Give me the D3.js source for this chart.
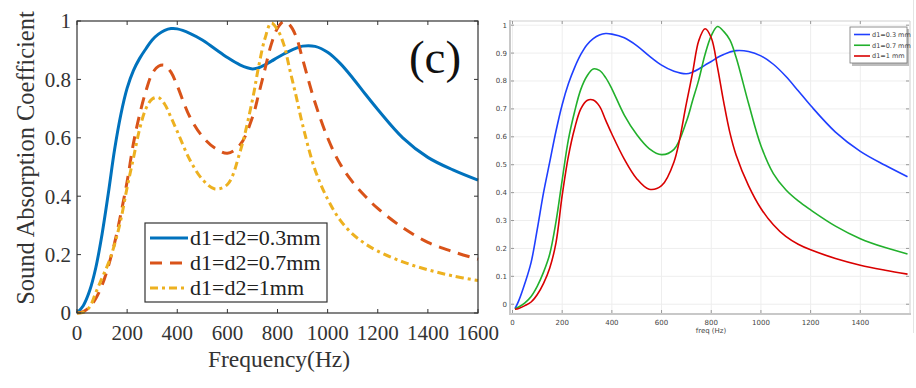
<!DOCTYPE html>
<html lang="en">
<head>
    <meta charset="UTF-8">
    <title>Sound Absorption Comparison</title>
    <script src="https://d3js.org/d3.v7.min.js"></script>
    <style>
        body {
            margin: 0;
            background-color: #ffffff;
            overflow: hidden;
        }

        svg {
            display: block;
        }

        .left text {
            font-family: 'Liberation Serif', 'Times New Roman', serif;
            fill: #333;
        }

        .right text {
            font-family: 'DejaVu Sans', sans-serif;
            font-size: 7px;
            fill: #444;
        }

        .curve {
            fill: none;
        }
    </style>
</head>
<body>
    <svg width="916" height="388"></svg>

    <script>
        // ---- data: left panel (model) ----
        const freqL = [0, 25, 50, 75, 100, 125, 150, 175, 200, 225, 250, 275, 300, 325, 350, 375, 400, 450, 500, 550,
                       600, 650, 700, 725, 750, 775, 800, 825, 850, 875, 900, 950, 1000, 1050, 1100, 1150, 1200, 1300, 1400, 1500, 1600];
        const d03L = [0, 0.025, 0.075, 0.155, 0.27, 0.41, 0.56, 0.68, 0.77, 0.83, 0.872, 0.905, 0.935, 0.955, 0.968, 0.974, 0.973, 0.958, 0.935, 0.905,
                      0.875, 0.85, 0.836, 0.84, 0.85, 0.862, 0.875, 0.887, 0.898, 0.907, 0.914, 0.913, 0.893, 0.855, 0.805, 0.75, 0.697, 0.6, 0.533, 0.49, 0.455];
        const d07L = [0, 0.005, 0.02, 0.05, 0.095, 0.16, 0.24, 0.34, 0.45, 0.58, 0.68, 0.76, 0.82, 0.845, 0.848, 0.825, 0.778, 0.672, 0.605, 0.565,
                      0.547, 0.575, 0.67, 0.75, 0.835, 0.92, 0.975, 0.998, 0.985, 0.945, 0.87, 0.72, 0.6, 0.51, 0.448, 0.4, 0.358, 0.292, 0.242, 0.21, 0.184];
        const d1L = [0, 0.002, 0.02, 0.07, 0.12, 0.17, 0.235, 0.32, 0.43, 0.53, 0.63, 0.7, 0.733, 0.738, 0.715, 0.67, 0.622, 0.525, 0.458, 0.425,
                     0.44, 0.55, 0.73, 0.845, 0.94, 0.993, 0.97, 0.92, 0.83, 0.74, 0.645, 0.49, 0.39, 0.318, 0.27, 0.237, 0.212, 0.175, 0.148, 0.127, 0.111];
        const legendL = ["d1=d2=0.3mm", "d1=d2=0.7mm", "d1=d2=1mm"];
        const xTicksL = [0, 200, 400, 600, 800, 1000, 1200, 1400, 1600];
        const yTicksL = [0, 0.2, 0.4, 0.6, 0.8, 1];

        // ---- data: right panel (simulation) ----
        const freqR = [10, 25, 50, 75, 100, 125, 150, 175, 200, 225, 250, 275, 300, 325, 350, 375, 400, 450, 500, 550,
                       600, 650, 700, 725, 750, 775, 800, 825, 850, 875, 900, 950, 1000, 1050, 1100, 1150, 1200, 1300, 1400, 1500, 1590];
        const d03R = [-0.016, 0.012, 0.075, 0.15, 0.27, 0.4, 0.51, 0.62, 0.715, 0.79, 0.848, 0.895, 0.93, 0.952, 0.965, 0.97, 0.968, 0.955, 0.927, 0.89,
                      0.857, 0.835, 0.826, 0.832, 0.843, 0.857, 0.87, 0.884, 0.895, 0.904, 0.909, 0.906, 0.89, 0.86, 0.817, 0.765, 0.712, 0.617, 0.548, 0.498, 0.457];
        const d07R = [-0.016, -0.01, 0.005, 0.028, 0.065, 0.115, 0.18, 0.295, 0.445, 0.59, 0.69, 0.77, 0.818, 0.843, 0.838, 0.812, 0.772, 0.678, 0.608, 0.558,
                      0.536, 0.555, 0.655, 0.73, 0.805, 0.895, 0.962, 0.995, 0.978, 0.947, 0.885, 0.72, 0.568, 0.468, 0.41, 0.37, 0.338, 0.28, 0.235, 0.203, 0.18];
        const d1R = [-0.018, -0.015, -0.005, 0.008, 0.035, 0.075, 0.13, 0.22, 0.39, 0.53, 0.63, 0.7, 0.73, 0.732, 0.71, 0.66, 0.61, 0.52, 0.45, 0.412,
                     0.425, 0.51, 0.72, 0.83, 0.945, 0.987, 0.955, 0.85, 0.725, 0.615, 0.535, 0.425, 0.343, 0.285, 0.243, 0.215, 0.195, 0.164, 0.14, 0.122, 0.108];
        const legendR = ["d1=0.3 mm", "d1=0.7 mm", "d1=1 mm"];
        const xTicksR = [0, 200, 400, 600, 800, 1000, 1200, 1400];
        const yTicksR = [0, 0.1, 0.2, 0.3, 0.4, 0.5, 0.6, 0.7, 0.8, 0.9, 1];

        const svg = d3.select("svg");

        // ================= left panel =================
        const L = svg.append("g").attr("class", "left");
        const xL = d3.scaleLinear().domain([0, 1600]).range([77, 478]);
        const yL = d3.scaleLinear().domain([0, 1]).range([313, 21]);
        const axisCol = "#333";

        const seriesL = [
            { vals: d03L, color: "#0072BD", dash: null },
            { vals: d07L, color: "#D95319", dash: "12,8" },
            { vals: d1L, color: "#EDB120", dash: "8,4,3,4" }
        ];

        const lineL = d3.line()
            .x((d, i) => xL(freqL[i]))
            .y(d => yL(d))
            .curve(d3.curveCatmullRom.alpha(0.5));

        // curves (drawn under the legend)
        seriesL.forEach(s => {
            L.append("path")
                .attr("class", "curve")
                .attr("d", lineL(s.vals))
                .attr("stroke", s.color)
                .attr("stroke-width", 3)
                .attr("stroke-dasharray", s.dash);
        });

        // box
        L.append("rect")
            .attr("x", xL(0)).attr("y", yL(1))
            .attr("width", xL(1600) - xL(0)).attr("height", yL(0) - yL(1))
            .attr("fill", "none").attr("stroke", axisCol).attr("stroke-width", 1.2);

        // inward ticks on all sides
        xTicksL.forEach(t => {
            L.append("line").attr("x1", xL(t)).attr("x2", xL(t)).attr("y1", yL(0)).attr("y2", yL(0) - 4).attr("stroke", axisCol);
            L.append("line").attr("x1", xL(t)).attr("x2", xL(t)).attr("y1", yL(1)).attr("y2", yL(1) + 4).attr("stroke", axisCol);
            L.append("text")
                .attr("x", xL(t)).attr("y", 340)
                .attr("text-anchor", "middle")
                .style("font-size", "21px")
                .text(t);
        });
        yTicksL.forEach(t => {
            L.append("line").attr("x1", xL(0)).attr("x2", xL(0) + 4).attr("y1", yL(t)).attr("y2", yL(t)).attr("stroke", axisCol);
            L.append("line").attr("x1", xL(1600)).attr("x2", xL(1600) - 4).attr("y1", yL(t)).attr("y2", yL(t)).attr("stroke", axisCol);
            L.append("text")
                .attr("x", 71).attr("y", yL(t))
                .attr("dy", "0.35em")
                .attr("text-anchor", "end")
                .style("font-size", "21px")
                .text(t);
        });

        // axis labels
        L.append("text")
            .attr("transform", "translate(34,158) rotate(-90)")
            .attr("text-anchor", "middle")
            .style("font-size", "24.5px")
            .text("Sound Absorption Coefficient");
        L.append("text")
            .attr("x", 279).attr("y", 367)
            .attr("text-anchor", "middle")
            .style("font-size", "23.5px")
            .text("Frequency(Hz)");

        L.append("text")
            .attr("x", 435).attr("y", 73)
            .attr("text-anchor", "middle")
            .style("font-size", "47px")
            .style("fill", "#111")
            .text("(c)");

        // legend
        const legL = L.append("g");
        legL.append("rect")
            .attr("x", 145).attr("y", 223).attr("width", 182).attr("height", 79)
            .attr("fill", "#fff").attr("stroke", axisCol).attr("stroke-width", 1.2);
        const rowL = d3.scaleLinear().domain([0, 2]).range([238, 288]);
        seriesL.forEach((s, i) => {
            legL.append("line")
                .attr("x1", 150).attr("x2", 188)
                .attr("y1", rowL(i)).attr("y2", rowL(i))
                .attr("stroke", s.color).attr("stroke-width", 3)
                .attr("stroke-dasharray", s.dash);
            legL.append("text")
                .attr("x", 190).attr("y", rowL(i))
                .attr("dy", "0.33em")
                .style("font-size", "22px")
                .style("fill", "#222")
                .text(legendL[i]);
        });

        // ================= right panel =================
        const R = svg.append("g").attr("class", "right");
        const xR = d3.scaleLinear().domain([-10, 1600]).range([510, 910]);
        const yR = d3.scaleLinear().domain([-0.035, 1.015]).range([314, 21]);

        // grid
        xTicksR.forEach(t => {
            R.append("line").attr("x1", xR(t)).attr("x2", xR(t)).attr("y1", yR(1.015)).attr("y2", yR(-0.035))
                .attr("stroke", "#eeeeee");
        });
        yTicksR.forEach(t => {
            R.append("line").attr("x1", xR(-10)).attr("x2", xR(1600)).attr("y1", yR(t)).attr("y2", yR(t))
                .attr("stroke", "#eeeeee");
        });

        // frame
        R.append("line").attr("x1", 510).attr("x2", 910).attr("y1", 21).attr("y2", 21).attr("stroke", "#cfcfcf");
        R.append("line").attr("x1", 910).attr("x2", 910).attr("y1", 21).attr("y2", 314).attr("stroke", "#cfcfcf");
        R.append("line").attr("x1", 510).attr("x2", 510).attr("y1", 20).attr("y2", 315).attr("stroke", "#c8c8c8").attr("stroke-width", 2);
        R.append("line").attr("x1", 509).attr("x2", 911).attr("y1", 314).attr("y2", 314).attr("stroke", "#c8c8c8").attr("stroke-width", 2);
        R.append("line").attr("x1", 913.5).attr("x2", 913.5).attr("y1", 0).attr("y2", 333).attr("stroke", "#e4e4e4");

        // ticks and labels
        xTicksR.forEach(t => {
            R.append("line").attr("x1", xR(t)).attr("x2", xR(t)).attr("y1", 313).attr("y2", 310).attr("stroke", "#999");
            R.append("line").attr("x1", xR(t)).attr("x2", xR(t)).attr("y1", 21).attr("y2", 24).attr("stroke", "#999");
            R.append("text")
                .attr("x", xR(t)).attr("y", 324.5)
                .attr("text-anchor", "middle")
                .text(t);
        });
        yTicksR.forEach(t => {
            R.append("line").attr("x1", 511).attr("x2", 514).attr("y1", yR(t)).attr("y2", yR(t)).attr("stroke", "#999");
            R.append("line").attr("x1", 909).attr("x2", 906).attr("y1", yR(t)).attr("y2", yR(t)).attr("stroke", "#999");
            R.append("text")
                .attr("x", 507).attr("y", yR(t))
                .attr("dy", "0.35em")
                .attr("text-anchor", "end")
                .text(t);
        });
        R.append("text")
            .attr("x", 711).attr("y", 333)
            .attr("text-anchor", "middle")
            .text("freq (Hz)");

        const seriesR = [
            { vals: d03R, color: "#1f3fff" },
            { vals: d07R, color: "#22b02c" },
            { vals: d1R, color: "#d90000" }
        ];
        const lineR = d3.line()
            .x((d, i) => xR(freqR[i]))
            .y(d => yR(d))
            .curve(d3.curveCatmullRom.alpha(0.5));

        seriesR.forEach(s => {
            R.append("path")
                .attr("class", "curve")
                .attr("d", lineR(s.vals))
                .attr("stroke", s.color)
                .attr("stroke-width", 1.6);
        });

        // legend with shadow
        const legR = R.append("g");
        legR.append("rect")
            .attr("x", 852).attr("y", 29).attr("width", 57).attr("height", 37)
            .attr("fill", "#bdbdbd");
        legR.append("rect")
            .attr("x", 850).attr("y", 27).attr("width", 57).attr("height", 36)
            .attr("fill", "#fff").attr("stroke", "#777").attr("stroke-width", 0.8);
        const rowR = d3.scaleLinear().domain([0, 2]).range([34.5, 56]);
        seriesR.forEach((s, i) => {
            legR.append("line")
                .attr("x1", 854).attr("x2", 870)
                .attr("y1", rowR(i)).attr("y2", rowR(i))
                .attr("stroke", s.color).attr("stroke-width", 1.6);
            legR.append("text")
                .attr("x", 872).attr("y", rowR(i))
                .attr("dy", "0.35em")
                .style("font-size", "6.5px")
                .text(legendR[i]);
        });
    </script>
</body>
</html>
